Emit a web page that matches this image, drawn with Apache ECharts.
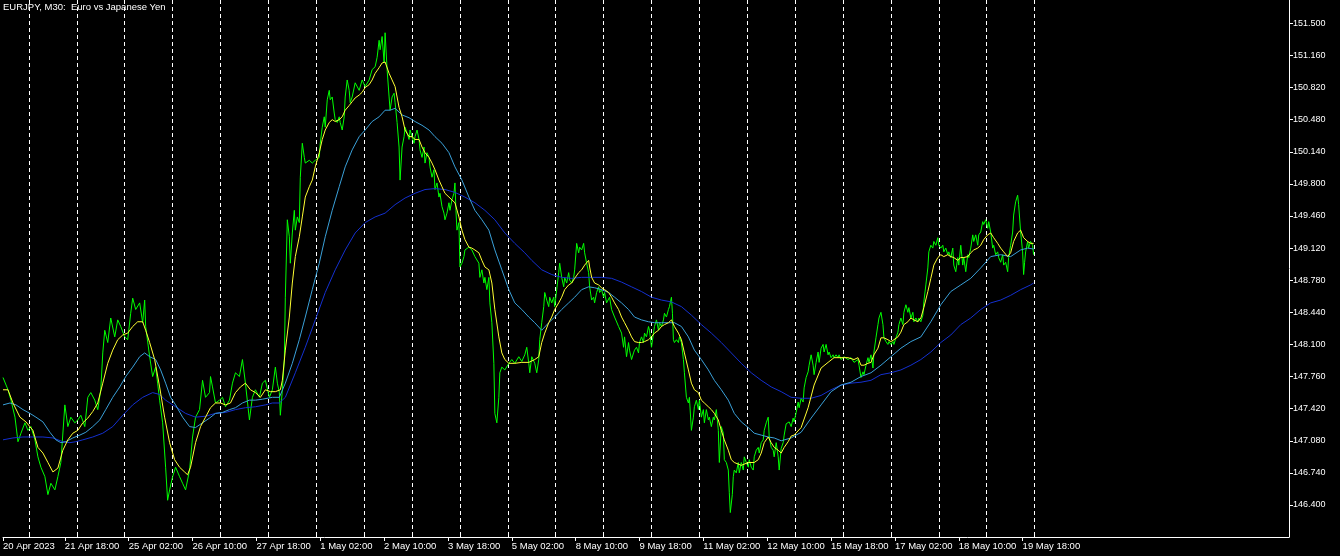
<!DOCTYPE html>
<html><head><meta charset="utf-8">
<script src="https://cdn.jsdelivr.net/npm/echarts@6/dist/echarts.min.js"></script>
<style>html,body{margin:0;padding:0;background:#000;}#c{width:1340px;height:556px;}</style>
</head><body><div id="c"></div>
<script>
const chartTitle = 'EURJPY, M30:  Euro vs Japanese Yen';
// bar indices (one bar = 30 minutes) where time labels sit
const xLabelBars = [0,62,126,190,254,318,382,446,510,574,638,702,766,830,894,958,1022];
const xLabelTexts = ['20 Apr 2023','21 Apr 18:00','25 Apr 02:00','26 Apr 10:00','27 Apr 18:00','1 May 02:00','2 May 10:00','3 May 18:00','5 May 02:00','8 May 10:00','9 May 18:00','11 May 02:00','12 May 10:00','15 May 18:00','17 May 02:00','18 May 10:00','19 May 18:00'];
// bar indices of vertical grid separators
const gridBars = [26,74,122,170,218,266,314,362,410,458,506,554,602,650,698,746,794,842,890,938,986,1034];
const yTicks = [146.40,146.74,147.08,147.42,147.76,148.10,148.44,148.78,149.12,149.46,149.80,150.14,150.48,150.82,151.16,151.50];

// close price [bar, price]
const priceLine = [[0,147.75],[5,147.62],[8,147.51],[12,147.33],[15,147.07],[18,147.16],[22,147.27],[25,147.19],[28,147.23],[32,147.09],[35,146.91],[38,146.80],[42,146.70],[45,146.51],[48,146.63],[52,146.56],[55,146.70],[58,146.85],[62,147.46],[65,147.23],[68,147.33],[72,147.27],[75,147.30],[78,147.35],[82,147.23],[85,147.54],[88,147.59],[92,147.51],[95,147.41],[98,147.62],[100,148.01],[102,148.25],[105,148.12],[108,148.38],[112,148.18],[115,148.36],[118,148.29],[122,148.18],[125,148.15],[128,148.43],[130,148.59],[133,148.47],[137,148.54],[140,148.33],[142,148.57],[143,148.29],[147,147.97],[150,147.76],[153,147.86],[155,147.69],[157,147.51],[160,147.27],[163,146.80],[165,146.45],[167,146.56],[170,146.70],[173,146.80],[177,146.70],[180,146.63],[183,146.56],[187,146.77],[190,147.12],[193,147.33],[197,147.41],[200,147.72],[203,147.54],[207,147.59],[208,147.76],[210,147.65],[213,147.48],[217,147.51],[220,147.54],[223,147.44],[227,147.51],[230,147.69],[233,147.80],[237,147.76],[240,147.94],[243,147.69],[247,147.30],[248,147.28],[250,147.54],[253,147.62],[257,147.54],[260,147.69],[263,147.72],[267,147.54],[270,147.62],[273,147.86],[275,147.69],[277,147.59],[278,147.35],[280,147.62],[282,147.94],[283,148.60],[285,149.42],[287,149.24],[288,148.96],[290,149.28],[292,149.52],[293,149.31],[295,149.45],[297,149.39],[298,149.87],[300,150.23],[302,150.08],[303,150.02],[307,150.05],[310,150.02],[313,150.05],[317,150.08],[318,150.23],[320,150.40],[322,150.51],[323,150.40],[325,150.69],[327,150.79],[328,150.69],[330,150.72],[332,150.55],[333,150.48],[335,150.45],[337,150.51],[338,150.45],[340,150.37],[342,150.51],[343,150.72],[345,150.90],[347,150.79],[348,150.66],[350,150.72],[353,150.87],[357,150.79],[360,150.90],[363,150.83],[367,150.90],[370,151.01],[373,151.04],[375,151.14],[377,151.32],[378,151.22],[380,151.36],[382,151.08],[383,151.40],[385,151.01],[387,150.72],[388,150.58],[390,150.72],[392,150.76],[393,150.66],[395,150.45],[397,150.19],[398,149.84],[400,150.19],[402,150.30],[403,150.40],[405,150.34],[407,150.27],[408,150.37],[410,150.30],[412,150.23],[413,150.30],[415,150.37],[417,150.27],[418,150.16],[420,150.08],[422,150.19],[423,150.02],[425,150.13],[427,150.08],[428,149.98],[430,149.87],[432,149.95],[433,149.74],[435,149.81],[437,149.66],[438,149.70],[440,149.56],[442,149.49],[443,149.42],[445,149.49],[447,149.60],[448,149.52],[450,149.63],[452,149.70],[453,149.81],[454,149.52],[455,149.31],[457,149.39],[458,148.92],[460,148.96],[462,149.03],[463,149.10],[467,149.13],[470,149.10],[473,149.03],[477,148.96],[478,148.81],[480,148.89],[482,148.75],[483,148.81],[485,148.68],[487,148.81],[488,148.54],[490,148.33],[492,147.90],[493,147.37],[495,147.27],[497,147.54],[498,147.80],[500,147.86],[503,147.83],[507,147.90],[510,147.94],[513,147.90],[517,147.97],[520,147.92],[523,147.99],[525,148.07],[527,147.90],[528,147.80],[530,147.97],[533,147.90],[535,147.80],[537,147.94],[538,148.15],[540,148.33],[542,148.50],[543,148.65],[545,148.57],[547,148.50],[548,148.60],[550,148.54],[552,148.60],[553,148.50],[555,148.68],[557,148.86],[558,148.96],[560,148.81],[562,148.71],[563,148.81],[565,148.75],[567,148.86],[568,148.78],[570,148.75],[572,148.81],[573,148.89],[575,149.17],[577,149.07],[578,149.13],[580,149.10],[582,149.17],[583,149.07],[585,148.96],[587,148.86],[588,148.71],[590,148.57],[592,148.60],[593,148.54],[595,148.65],[597,148.71],[598,148.65],[600,148.68],[602,148.60],[603,148.65],[605,148.54],[608,148.60],[610,148.47],[613,148.39],[617,148.29],[620,148.22],[622,148.07],[623,148.18],[625,147.97],[627,148.12],[628,148.04],[630,147.94],[632,148.01],[633,148.04],[635,148.07],[637,148.01],[638,148.12],[640,148.18],[642,148.12],[643,148.22],[645,148.18],[647,148.29],[648,148.25],[650,148.07],[652,148.22],[653,148.29],[655,148.36],[657,148.25],[658,148.33],[660,148.29],[662,148.36],[663,148.43],[665,148.39],[667,148.47],[668,148.50],[670,148.60],[671,148.43],[672,148.15],[673,148.12],[675,148.15],[677,148.12],[678,148.18],[680,148.12],[682,147.94],[683,147.80],[685,147.54],[687,147.48],[688,147.54],[690,147.19],[692,147.33],[693,147.44],[695,147.51],[697,147.41],[698,147.51],[700,147.33],[702,147.41],[703,147.27],[705,147.41],[707,147.30],[708,147.33],[710,147.23],[712,147.33],[713,147.30],[715,147.41],[717,147.19],[718,146.85],[720,147.23],[722,147.16],[723,146.88],[725,146.85],[727,146.77],[728,146.53],[729,146.32],[731,146.51],[732,146.70],[733,146.77],[735,146.74],[737,146.85],[738,146.74],[740,146.85],[742,146.77],[743,146.91],[745,146.85],[747,146.80],[748,146.88],[750,146.80],[752,146.77],[753,146.91],[755,146.98],[757,147.01],[758,146.95],[760,147.06],[762,147.09],[763,147.19],[765,147.27],[767,147.33],[768,147.12],[770,147.01],[772,146.98],[773,146.91],[775,147.06],[777,146.91],[778,146.77],[780,147.00],[782,147.06],[783,147.14],[785,147.26],[787,147.28],[788,147.28],[790,147.23],[792,147.32],[793,147.28],[795,147.38],[797,147.49],[798,147.43],[800,147.53],[802,147.49],[803,147.64],[805,147.75],[807,147.81],[808,147.88],[810,147.99],[812,147.88],[813,147.78],[815,147.91],[817,148.02],[818,147.91],[820,148.06],[822,148.10],[823,148.02],[825,148.10],[827,147.99],[828,148.02],[830,147.96],[832,147.99],[833,147.96],[835,147.99],[837,147.96],[838,147.99],[840,147.94],[843,147.97],[847,147.94],[850,147.96],[853,147.91],[857,147.94],[858,147.88],[860,147.75],[862,147.81],[863,147.78],[865,147.88],[867,147.96],[868,147.91],[870,147.99],[872,147.85],[873,148.02],[875,148.17],[877,148.31],[878,148.38],[880,148.44],[882,148.31],[883,148.17],[885,148.13],[887,148.10],[888,148.13],[890,148.10],[892,148.13],[893,148.10],[895,148.17],[897,148.23],[898,148.31],[900,148.38],[902,148.31],[903,148.44],[905,148.52],[907,148.44],[908,148.49],[910,148.38],[912,148.44],[913,148.34],[915,148.38],[917,148.34],[918,148.38],[920,148.34],[922,148.41],[923,148.55],[925,148.73],[927,148.91],[928,149.08],[930,149.15],[932,149.12],[933,149.19],[935,149.15],[937,149.23],[938,149.15],[940,149.12],[942,149.15],[943,149.08],[945,149.12],[947,149.05],[948,149.08],[950,149.02],[952,149.12],[953,148.94],[955,148.87],[957,149.02],[958,148.94],[960,149.15],[962,148.94],[963,149.02],[965,148.87],[967,149.05],[968,149.02],[970,149.12],[972,149.26],[973,149.19],[975,149.26],[977,149.15],[978,149.26],[980,149.29],[982,149.40],[983,149.37],[985,149.42],[987,149.33],[988,149.40],[990,149.29],[992,149.12],[993,149.15],[995,149.05],[997,149.08],[998,149.02],[1000,148.97],[1002,149.05],[1003,148.94],[1005,148.97],[1007,148.87],[1008,149.02],[1010,149.15],[1012,149.29],[1013,149.47],[1015,149.61],[1017,149.68],[1018,149.58],[1020,149.29],[1022,149.08],[1023,148.84],[1024,148.97],[1025,149.08],[1027,149.19],[1028,149.12],[1030,149.19],[1032,149.15],[1033,149.05]];

// fast moving average (yellow)
const maFast = [[0,147.62],[5,147.62],[10,147.48],[17,147.33],[23,147.28],[30,147.19],[35,147.01],[40,146.95],[45,146.85],[50,146.75],[55,146.79],[60,146.98],[65,147.09],[70,147.16],[75,147.19],[80,147.27],[85,147.32],[90,147.39],[95,147.48],[100,147.69],[105,147.90],[110,148.04],[115,148.15],[120,148.20],[125,148.22],[130,148.29],[135,148.34],[140,148.34],[143,148.25],[147,148.12],[152,147.94],[157,147.65],[162,147.33],[167,147.06],[172,146.88],[177,146.80],[182,146.75],[185,146.72],[188,146.80],[193,147.06],[198,147.23],[203,147.33],[208,147.43],[213,147.48],[218,147.48],[223,147.46],[228,147.48],[233,147.59],[238,147.65],[243,147.69],[248,147.62],[253,147.59],[258,147.54],[263,147.62],[268,147.60],[273,147.60],[278,147.62],[280,147.72],[283,148.04],[287,148.39],[290,148.75],[293,149.03],[297,149.24],[300,149.45],[303,149.66],[307,149.77],[310,149.84],[313,149.98],[317,150.13],[320,150.27],[323,150.37],[327,150.45],[330,150.48],[333,150.46],[337,150.48],[340,150.51],[343,150.58],[347,150.63],[350,150.67],[353,150.71],[357,150.74],[360,150.77],[363,150.82],[367,150.85],[370,150.90],[373,150.97],[377,151.03],[380,151.08],[383,151.09],[387,150.97],[390,150.90],[393,150.83],[397,150.61],[400,150.51],[403,150.37],[407,150.30],[410,150.30],[413,150.27],[417,150.27],[420,150.19],[423,150.13],[427,150.08],[430,150.02],[433,149.95],[437,149.84],[440,149.77],[443,149.70],[447,149.66],[450,149.63],[453,149.60],[457,149.45],[460,149.31],[463,149.21],[467,149.13],[470,149.12],[473,149.10],[477,149.07],[480,148.99],[483,148.92],[487,148.89],[490,148.75],[493,148.47],[497,148.18],[500,148.01],[503,147.94],[507,147.90],[513,147.90],[520,147.91],[527,147.91],[533,147.94],[537,147.97],[540,148.12],[543,148.22],[547,148.33],[550,148.39],[553,148.47],[557,148.54],[560,148.60],[563,148.68],[567,148.73],[570,148.75],[573,148.80],[577,148.86],[580,148.89],[583,148.94],[587,148.99],[588,148.92],[590,148.81],[593,148.75],[597,148.73],[600,148.70],[603,148.68],[607,148.65],[610,148.60],[613,148.54],[617,148.47],[620,148.39],[623,148.33],[627,148.25],[630,148.18],[633,148.13],[637,148.12],[640,148.12],[643,148.13],[647,148.15],[650,148.18],[653,148.22],[657,148.25],[660,148.29],[663,148.31],[667,148.33],[670,148.36],[673,148.29],[677,148.22],[680,148.15],[683,148.01],[687,147.83],[690,147.69],[693,147.62],[697,147.59],[700,147.51],[703,147.48],[707,147.44],[710,147.41],[713,147.37],[717,147.30],[720,147.19],[723,147.09],[727,146.98],[730,146.88],[733,146.85],[740,146.82],[747,146.85],[753,146.85],[757,146.88],[760,146.95],[763,147.06],[767,147.12],[770,147.06],[773,147.01],[777,146.98],[780,146.95],[783,147.01],[787,147.07],[790,147.13],[793,147.14],[800,147.22],[807,147.43],[813,147.67],[820,147.85],[827,147.91],[833,147.96],[840,147.96],[847,147.96],[853,147.94],[857,147.96],[860,147.88],[863,147.88],[867,147.90],[870,147.91],[873,147.99],[877,148.06],[880,148.17],[883,148.17],[887,148.15],[890,148.13],[893,148.15],[897,148.18],[900,148.23],[903,148.31],[907,148.34],[910,148.38],[913,148.36],[917,148.34],[920,148.38],[923,148.49],[927,148.66],[930,148.80],[933,148.94],[937,149.02],[940,149.05],[943,149.03],[947,149.05],[950,149.03],[953,149.02],[957,148.99],[960,149.02],[963,149.02],[967,149.03],[970,149.07],[973,149.10],[977,149.12],[980,149.15],[983,149.21],[987,149.26],[990,149.28],[993,149.23],[997,149.17],[1000,149.12],[1003,149.08],[1007,149.03],[1010,149.07],[1013,149.19],[1017,149.28],[1020,149.31],[1023,149.23],[1027,149.19],[1030,149.17],[1033,149.17]];

// medium moving average (light blue)
const maMid = [[0,147.46],[7,147.48],[13,147.46],[20,147.41],[27,147.37],[33,147.33],[40,147.28],[47,147.17],[53,147.09],[58,147.06],[63,147.07],[70,147.11],[77,147.14],[83,147.17],[90,147.23],[97,147.30],[103,147.41],[110,147.54],[117,147.65],[123,147.76],[130,147.86],[137,147.97],[142,148.01],[147,147.97],[153,147.94],[158,147.83],[163,147.69],[168,147.54],[173,147.46],[180,147.33],[187,147.23],[193,147.22],[200,147.27],[207,147.32],[213,147.37],[220,147.38],[227,147.41],[233,147.43],[240,147.48],[247,147.51],[253,147.51],[260,147.52],[270,147.54],[277,147.54],[283,147.69],[290,147.90],[297,148.15],[303,148.39],[310,148.68],[317,148.96],[323,149.24],[330,149.52],[337,149.77],[343,149.98],[350,150.16],[357,150.30],[363,150.37],[370,150.46],[377,150.51],[383,150.58],[388,150.58],[393,150.60],[400,150.53],[407,150.50],[413,150.46],[420,150.42],[427,150.37],[433,150.30],[440,150.23],[447,150.13],[453,149.98],[460,149.84],[467,149.66],[473,149.52],[480,149.42],[487,149.31],[493,149.10],[500,148.89],[507,148.68],[513,148.54],[520,148.47],[527,148.39],[533,148.33],[540,148.25],[547,148.33],[553,148.39],[560,148.47],[567,148.54],[573,148.60],[580,148.68],[587,148.71],[593,148.70],[600,148.68],[607,148.65],[613,148.60],[620,148.54],[627,148.47],[633,148.39],[640,148.36],[647,148.34],[653,148.33],[660,148.33],[667,148.33],[673,148.33],[680,148.29],[687,148.18],[693,148.04],[700,147.94],[707,147.83],[713,147.72],[720,147.62],[727,147.51],[733,147.37],[740,147.28],[747,147.22],[753,147.16],[760,147.14],[767,147.12],[773,147.11],[780,147.08],[790,147.11],[800,147.17],[810,147.32],[820,147.46],[830,147.60],[840,147.67],[850,147.70],[860,147.76],[870,147.80],[880,147.88],[890,147.97],[900,148.06],[910,148.13],[920,148.18],[930,148.34],[940,148.52],[950,148.66],[960,148.73],[970,148.80],[980,148.91],[990,149.03],[1000,149.05],[1010,149.03],[1020,149.10],[1027,149.12],[1033,149.11]];

// slow moving average (dark blue)
const maSlow = [[0,147.09],[10,147.11],[20,147.12],[30,147.12],[40,147.12],[50,147.11],[60,147.07],[67,147.06],[73,147.07],[80,147.09],[90,147.12],[100,147.16],[110,147.23],[120,147.35],[130,147.46],[140,147.54],[150,147.59],[157,147.57],[163,147.51],[173,147.44],[183,147.37],[193,147.33],[203,147.34],[213,147.37],[223,147.38],[233,147.41],[243,147.43],[253,147.44],[263,147.46],[270,147.48],[277,147.48],[283,147.54],[293,147.80],[303,148.07],[313,148.36],[323,148.65],[333,148.89],[343,149.10],[353,149.28],[363,149.39],[373,149.45],[383,149.49],[393,149.58],[403,149.65],[413,149.70],[423,149.74],[433,149.75],[443,149.74],[453,149.71],[463,149.66],[473,149.60],[483,149.52],[493,149.42],[503,149.28],[513,149.17],[523,149.07],[530,148.99],[540,148.89],[550,148.84],[560,148.81],[570,148.80],[580,148.81],[590,148.81],[600,148.81],[610,148.80],[620,148.76],[630,148.71],[640,148.66],[650,148.60],[660,148.57],[670,148.55],[680,148.50],[690,148.41],[700,148.31],[710,148.22],[720,148.12],[730,148.01],[740,147.90],[750,147.80],[760,147.72],[770,147.65],[780,147.60],[790,147.54],[800,147.53],[810,147.53],[820,147.56],[830,147.62],[840,147.67],[850,147.69],[860,147.70],[870,147.72],[880,147.78],[890,147.80],[900,147.83],[910,147.88],[920,147.94],[930,148.02],[940,148.12],[950,148.20],[960,148.31],[970,148.38],[980,148.47],[990,148.54],[1000,148.57],[1010,148.62],[1020,148.68],[1030,148.73],[1033,148.75]];

const chart = echarts.init(document.getElementById('c'), null, {renderer: 'canvas'});
const lineS = (name, data, color, z) => ({
  name, type: 'line', data, showSymbol: false, symbol: 'none', z,
  lineStyle: {color, width: 1}, itemStyle: {color}, animation: false, silent: true
});
chart.setOption({
  backgroundColor: '#000',
  animation: false,
  title: {
    text: chartTitle, left: 3, top: 2, padding: 0,
    textStyle: {color: '#fff', fontSize: 9.5, fontWeight: 'normal', fontFamily: 'Liberation Sans'}
  },
  grid: {left: 0, right: 51, top: 0, bottom: 19, show: false},
  xAxis: [{
    type: 'value', min: 0, max: 1289, position: 'bottom',
    axisLine: {show: true, onZero: false, lineStyle: {color: '#fff', width: 1}},
    axisTick: {show: true, inside: false, length: 4, customValues: xLabelBars, lineStyle: {color: '#fff'}},
    axisLabel: {
      show: true, customValues: xLabelBars, align: 'left', margin: 4,
      color: '#fff', fontSize: 9.5, fontFamily: 'Liberation Sans',
      formatter: v => xLabelTexts[xLabelBars.indexOf(v)] || ''
    },
    splitLine: {show: false}
  }, {
    type: 'value', min: 0, max: 1289, position: 'bottom',
    axisLine: {show: false, onZero: false},
    axisTick: {show: true, inside: true, length: 3, customValues: gridBars, lineStyle: {color: '#fff'}},
    axisLabel: {show: false},
    splitLine: {show: true, lineStyle: {color: '#fff', width: 1, type: [4, 3]}}
  }],
  yAxis: {
    type: 'value', min: 146.0612, max: 151.7467, position: 'right',
    axisLine: {show: true, onZero: false, lineStyle: {color: '#fff'}},
    axisTick: {show: true, length: 4, customValues: yTicks, lineStyle: {color: '#fff'}},
    axisLabel: {
      show: true, customValues: yTicks, margin: 4, color: '#fff', fontSize: 9, fontFamily: 'Liberation Sans',
      formatter: v => v.toFixed(3)
    },
    splitLine: {show: false}
  },
  series: [
    lineS('EURJPY', priceLine, '#00ff00', 2),
    lineS('MA slow', maSlow, '#1430d0', 3),
    lineS('MA mid', maMid, '#3aa0d8', 4),
    lineS('MA fast', maFast, '#ffff33', 5)
  ]
});
</script>
</body></html>
